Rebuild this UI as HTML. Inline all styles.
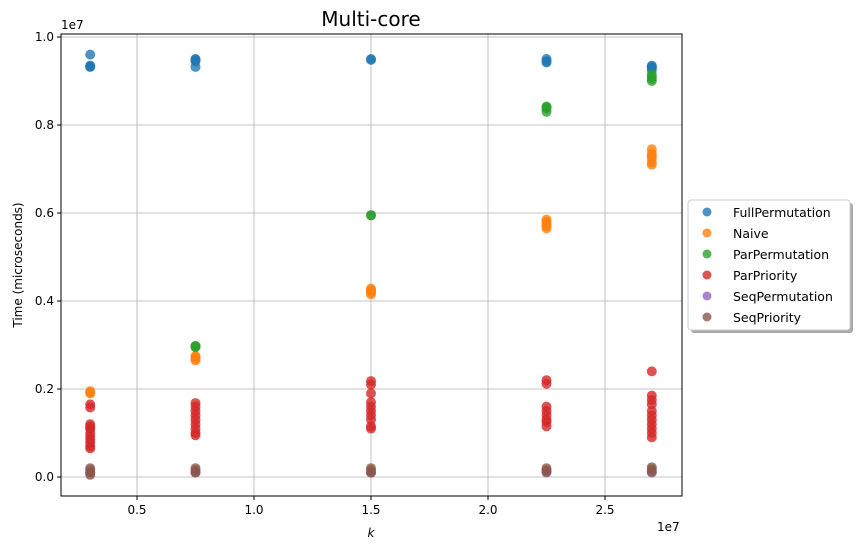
<!DOCTYPE html>
<html><head><meta charset="utf-8"><style>
body{margin:0;background:#fff;font-family:"Liberation Sans","DejaVu Sans",sans-serif}
svg text{font-family:"DejaVu Sans","Liberation Sans",sans-serif}
</style></head><body>
<svg id="c" width="859" height="550"></svg>
<script>
const xTicks=[0.5,1.0,1.5,2.0,2.5];
const yTicks=[0.0,0.2,0.4,0.6,0.8,1.0];
const seriesNames=["FullPermutation","Naive","ParPermutation","ParPriority","SeqPermutation","SeqPriority"];
const colors=["#1f77b4","#ff7f0e","#2ca02c","#d62728","#9467bd","#8c564b"];
// x and y values in units of 1e6
const fullPermutation=[[3,9.6],[3,9.33],[3,9.35],[3,9.32],[7.5,9.5],[7.5,9.45],[7.5,9.48],[7.5,9.32],[15,9.5],[15,9.48],[22.5,9.5],[22.5,9.45],[22.5,9.42],[27,9.35],[27,9.3],[27,9.25],[27,9.32]];
const naive=[[3,1.95],[3,1.92],[3,1.9],[7.5,2.75],[7.5,2.7],[7.5,2.65],[7.5,2.72],[15,4.28],[15,4.2],[15,4.15],[15,4.25],[15,4.22],[22.5,5.85],[22.5,5.75],[22.5,5.65],[22.5,5.8],[22.5,5.7],[27,7.45],[27,7.35],[27,7.25],[27,7.15],[27,7.1],[27,7.3]];
const parPermutation=[[3,1.1],[7.5,2.98],[7.5,2.95],[7.5,2.97],[15,5.95],[15,5.95],[22.5,8.42],[22.5,8.38],[22.5,8.3],[22.5,8.4],[27,9.15],[27,9.05],[27,9.0],[27,9.1]];
const parPriority=[[3,1.65],[3,1.58],[3,1.2],[3,1.15],[3,1.1],[3,1.0],[3,0.92],[3,0.85],[3,0.78],[3,0.7],[3,0.65],[7.5,1.68],[7.5,1.6],[7.5,1.5],[7.5,1.4],[7.5,1.3],[7.5,1.2],[7.5,1.1],[7.5,1.0],[7.5,0.95],[15,2.18],[15,2.1],[15,1.9],[15,1.7],[15,1.6],[15,1.5],[15,1.4],[15,1.3],[15,1.15],[15,1.1],[22.5,2.2],[22.5,2.12],[22.5,1.6],[22.5,1.5],[22.5,1.4],[22.5,1.3],[22.5,1.25],[22.5,1.15],[27,2.4],[27,1.85],[27,1.75],[27,1.65],[27,1.5],[27,1.4],[27,1.3],[27,1.2],[27,1.1],[27,1.0],[27,0.9]];
const seqPermutation=[[3,0.1],[7.5,0.1],[15,0.1],[22.5,0.1],[27,0.1]];
const seqPriority=[[3,0.2],[3,0.15],[3,0.1],[3,0.05],[7.5,0.2],[7.5,0.15],[7.5,0.1],[15,0.2],[15,0.15],[15,0.1],[22.5,0.2],[22.5,0.15],[22.5,0.12],[27,0.22],[27,0.17],[27,0.12]];
const allSeries=[fullPermutation,naive,parPermutation,parPriority,seqPermutation,seqPriority];

const L=61,R=682,T=34,B=496;
const xs=v=>20+v*234;       // v in 1e7
const xd=v=>xs(v/10);        // v in 1e6
const ys=v=>477-v*440;       // v in 1e7
const yd=v=>ys(v/10);        // v in 1e6
const NS="http://www.w3.org/2000/svg";
const svg=document.getElementById('c');
function mk(t,a,p){const e=document.createElementNS(NS,t);for(const k in a)e.setAttribute(k,a[k]);(p||svg).appendChild(e);return e;}

const grid=mk('g',{});


xTicks.forEach(t=>{mk('line',{x1:xs(t),x2:xs(t),y1:T,y2:B,stroke:'#b0b0b0','stroke-width':0.8},grid);});
yTicks.forEach(t=>{mk('line',{x1:L,x2:R,y1:ys(t),y2:ys(t),stroke:'#b0b0b0','stroke-width':0.8},grid);});

const xa=mk('g',{});


xTicks.forEach(t=>{mk('line',{x1:xs(t),x2:xs(t),y1:B,y2:B+4,stroke:'#000'},xa);
 const tx=mk('text',{x:xs(t),y:B+18,'text-anchor':'middle','font-size':12},xa);tx.textContent=t.toFixed(1);});
const ya=mk('g',{});


yTicks.forEach(t=>{mk('line',{x1:L-4,x2:L,y1:ys(t),y2:ys(t),stroke:'#000'},ya);
 const tx=mk('text',{x:L-7,y:ys(t)+4,'text-anchor':'end','font-size':12},ya);tx.textContent=t.toFixed(1);});

allSeries.forEach((s,i)=>{
 const g=mk('g',{});
 
 
 s.forEach(p=>{const c=mk('circle',{cx:xd(p[0]),cy:yd(p[1]),r:5,fill:colors[i],'fill-opacity':0.8},g);
  
  });
});
mk('rect',{x:L,y:T,width:R-L,height:B-T,fill:'none',stroke:'#000','stroke-width':1});
</script>
<svg width="859" height="550" style="position:absolute;left:0;top:0">
<text x="371" y="26" text-anchor="middle" font-size="20">Multi-core</text>
<text x="61" y="29" font-size="12">1e7</text>
<text x="657" y="531" font-size="12">1e7</text>
<text x="371" y="537" text-anchor="middle" font-size="12" font-style="italic">k</text>
<text x="22" y="265" text-anchor="middle" font-size="12" transform="rotate(-90 22 265)">Time (microseconds)</text>
<g>
<rect x="691" y="203" width="162" height="130" rx="3" fill="#555" opacity="0.5"/>
<rect x="688" y="200" width="162" height="130" rx="3" fill="#fff" stroke="#ccc"/>
<g font-size="12.5">
<circle cx="707" cy="212" r="4.5" fill="#1f77b4" fill-opacity="0.8"/><text x="733" y="217">FullPermutation</text>
<circle cx="707" cy="233" r="4.5" fill="#ff7f0e" fill-opacity="0.8"/><text x="733" y="238">Naive</text>
<circle cx="707" cy="254" r="4.5" fill="#2ca02c" fill-opacity="0.8"/><text x="733" y="259">ParPermutation</text>
<circle cx="707" cy="275" r="4.5" fill="#d62728" fill-opacity="0.8"/><text x="733" y="280">ParPriority</text>
<circle cx="707" cy="296" r="4.5" fill="#9467bd" fill-opacity="0.8"/><text x="733" y="301">SeqPermutation</text>
<circle cx="707" cy="317" r="4.5" fill="#8c564b" fill-opacity="0.8"/><text x="733" y="322">SeqPriority</text>
</g></g>
</svg>
</body></html>
